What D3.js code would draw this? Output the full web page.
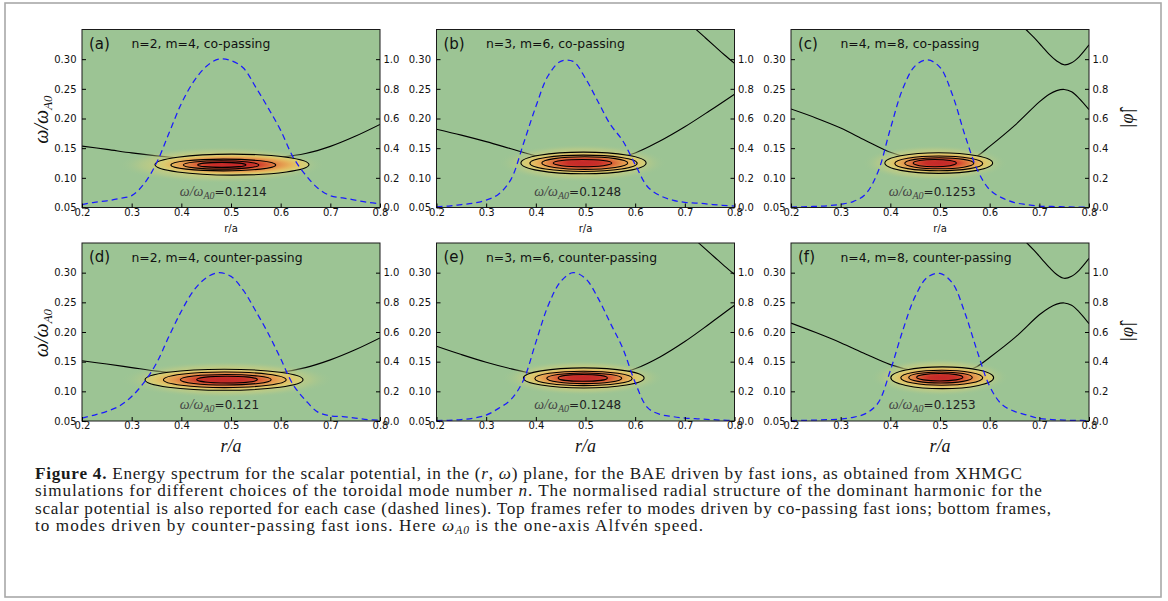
<!DOCTYPE html>
<html>
<head>
<meta charset="utf-8">
<script src="https://cdn.jsdelivr.net/npm/d3@7"></script>
<style>
  html, body { margin: 0; padding: 0; background: #ffffff; }
  svg { display: block; }
</style>
</head>
<body>
<svg id="fig" width="1168" height="601"></svg>
<script>
// ---------------- data ----------------
const panelIds = ["(a)", "(b)", "(c)", "(d)", "(e)", "(f)"];
const panelTitles = [
  "n=2, m=4, co-passing", "n=3, m=6, co-passing", "n=4, m=8, co-passing",
  "n=2, m=4, counter-passing", "n=3, m=6, counter-passing", "n=4, m=8, counter-passing"
];
const peakLabels = ["0.1214", "0.1248", "0.1253", "0.121", "0.1248", "0.1253"];

const freqTicks = [0.05, 0.10, 0.15, 0.20, 0.25, 0.30];
const radiusTicks = [0.2, 0.3, 0.4, 0.5, 0.6, 0.7, 0.8];
const amplitudeTicks = [0.0, 0.2, 0.4, 0.6, 0.8, 1.0];

// radial grid of the harmonic profiles |phi|(r/a)
const radialGrid = [0.200, 0.225, 0.250, 0.275, 0.300, 0.325, 0.350, 0.375, 0.400, 0.425, 0.450, 0.475,
                    0.500, 0.525, 0.550, 0.575, 0.600, 0.625, 0.650, 0.675, 0.700, 0.725, 0.750, 0.775, 0.800];
const phiA = [0.020, 0.035, 0.045, 0.060, 0.080, 0.160, 0.300, 0.500, 0.700, 0.850, 0.950, 1.000,
              0.990, 0.940, 0.810, 0.670, 0.520, 0.340, 0.220, 0.130, 0.080, 0.065, 0.050, 0.035, 0.025];
const phiB = [0.005, 0.010, 0.020, 0.030, 0.050, 0.090, 0.190, 0.430, 0.680, 0.890, 0.985, 0.985,
              0.870, 0.715, 0.560, 0.450, 0.290, 0.140, 0.080, 0.050, 0.035, 0.030, 0.022, 0.015, 0.010];
const phiC = [0.003, 0.005, 0.008, 0.012, 0.022, 0.040, 0.090, 0.240, 0.530, 0.800, 0.955, 0.995,
              0.945, 0.760, 0.490, 0.255, 0.120, 0.065, 0.033, 0.020, 0.010, 0.007, 0.005, 0.003, 0.003];
const phiD = [0.020, 0.040, 0.065, 0.100, 0.165, 0.260, 0.390, 0.570, 0.740, 0.880, 0.965, 1.000,
              0.975, 0.880, 0.740, 0.590, 0.420, 0.245, 0.140, 0.060, 0.035, 0.030, 0.020, 0.010, 0.005];
const phiE = [0.003, 0.005, 0.010, 0.020, 0.040, 0.085, 0.145, 0.275, 0.530, 0.780, 0.940, 1.000,
              0.960, 0.830, 0.660, 0.490, 0.260, 0.090, 0.045, 0.030, 0.020, 0.015, 0.010, 0.006, 0.004];
const phiF = [0.003, 0.004, 0.006, 0.009, 0.013, 0.025, 0.050, 0.120, 0.340, 0.610, 0.840, 0.970,
              0.995, 0.930, 0.730, 0.470, 0.234, 0.110, 0.065, 0.040, 0.017, 0.010, 0.006, 0.004, 0.003];

// shear Alfven continuum branches, [r/a, omega/omega_A0]
const lowerA = [[0.2,0.1535],[0.25,0.148],[0.3,0.142],[0.35,0.137],[0.4,0.133],[0.45,0.131],[0.5,0.131],
                [0.55,0.132],[0.6,0.135],[0.65,0.141],[0.7,0.153],[0.75,0.170],[0.8,0.190]];
const lowerB = [[0.2,0.182],[0.25,0.172],[0.3,0.161],[0.35,0.149],[0.4,0.137],[0.45,0.130],[0.5,0.129],
                [0.55,0.132],[0.6,0.142],[0.65,0.162],[0.7,0.186],[0.75,0.213],[0.8,0.241]];
const lowerC = [[0.2,0.216],[0.25,0.201],[0.3,0.184],[0.35,0.163],[0.4,0.143],[0.45,0.131],[0.5,0.127],
                [0.55,0.129],[0.575,0.137],[0.6,0.153],[0.65,0.188],[0.7,0.228],[0.72,0.241],[0.735,0.247],
                [0.75,0.249],[0.765,0.245],[0.78,0.234],[0.8,0.215]];
const lowerD = [[0.2,0.1515],[0.25,0.146],[0.3,0.140],[0.35,0.134],[0.4,0.130],[0.45,0.128],[0.5,0.128],
                [0.55,0.129],[0.6,0.132],[0.65,0.140],[0.7,0.153],[0.75,0.170],[0.8,0.190]];
const lowerE = [[0.2,0.176],[0.25,0.162],[0.3,0.149],[0.35,0.138],[0.4,0.129],[0.45,0.124],[0.5,0.123],
                [0.55,0.126],[0.6,0.138],[0.65,0.158],[0.7,0.184],[0.75,0.214],[0.8,0.245]];
const lowerF = [[0.2,0.215],[0.25,0.199],[0.3,0.182],[0.35,0.163],[0.4,0.145],[0.45,0.134],[0.5,0.130],
                [0.55,0.134],[0.575,0.142],[0.6,0.157],[0.65,0.190],[0.7,0.229],[0.72,0.241],[0.735,0.247],
                [0.75,0.249],[0.765,0.245],[0.78,0.234],[0.8,0.214]];
const upperB = [[0.70,0.367],[0.72,0.352],[0.74,0.337],[0.76,0.322],[0.78,0.307],[0.80,0.293]];
const upperC = [[0.655,0.365],[0.673,0.350],[0.69,0.336],[0.705,0.322],[0.72,0.308],[0.735,0.297],
                [0.75,0.2905],[0.765,0.294],[0.78,0.304],[0.80,0.324]];
const upperE = [[0.70,0.372],[0.72,0.356],[0.74,0.341],[0.76,0.326],[0.78,0.311],[0.80,0.297]];
const upperF = [[0.655,0.366],[0.675,0.350],[0.69,0.337],[0.705,0.323],[0.72,0.309],[0.735,0.297],
                [0.75,0.2905],[0.765,0.294],[0.78,0.304],[0.80,0.324]];

// energy-spectrum contour levels, outermost first: [rMin, rMax, omegaMin, omegaMax]
const levelsA = [[0.347,0.657,0.1046,0.1400],[0.379,0.590,0.1118,0.1316],[0.404,0.556,0.1147,0.1287],[0.433,0.530,0.1176,0.1260]];
const levelsB = [[0.370,0.622,0.1068,0.1434],[0.388,0.604,0.1108,0.1383],[0.412,0.585,0.1142,0.1355],[0.435,0.553,0.1186,0.1310]];
const levelsC = [[0.389,0.606,0.1075,0.1422],[0.409,0.586,0.1119,0.1367],[0.429,0.568,0.1152,0.1338],[0.446,0.533,0.1186,0.1310]];
const levelsD = [[0.327,0.645,0.1017,0.1373],[0.364,0.611,0.1063,0.1327],[0.398,0.581,0.1107,0.1283],[0.431,0.553,0.1141,0.1254]];
const levelsE = [[0.375,0.618,0.1056,0.1395],[0.398,0.594,0.1097,0.1339],[0.422,0.573,0.1130,0.1310],[0.445,0.544,0.1170,0.1283]];
const levelsF = [[0.401,0.608,0.1046,0.1412],[0.421,0.586,0.1102,0.1356],[0.437,0.565,0.1140,0.1327],[0.453,0.546,0.1175,0.1300]];

// ---------------- layout ----------------
const panelLeft = [82, 436.5, 791];
const rowTop = [29.5, 243];
const pw = 298, ph = 178;
const bgGreen = "#9cc494";

const panels = panelIds.map((id, i) => ({
  id, i,
  title: panelTitles[i],
  peak: peakLabels[i],
  phi: [phiA, phiB, phiC, phiD, phiE, phiF][i],
  lower: [lowerA, lowerB, lowerC, lowerD, lowerE, lowerF][i],
  upper: [null, upperB, upperC, null, upperE, upperF][i],
  levels: [levelsA, levelsB, levelsC, levelsD, levelsE, levelsF][i],
  col: i % 3,
  row: Math.floor(i / 3)
}));

const svg = d3.select("#fig");
const defs = svg.append("defs");

// colour ramp of the spectrum core (inside the outermost contour)
const core = defs.append("radialGradient").attr("id", "coreGrad");
[[0, "#c4282a"], [0.25, "#c92f29"], [0.38, "#d4472f"], [0.5, "#dd6d3c"],
 [0.62, "#e4934c"], [0.76, "#e6b45c"], [0.88, "#dcc96e"], [1, "#cfd07c"]]
  .forEach(([o, c]) => core.append("stop").attr("offset", o).attr("stop-color", c));

// soft halo of the spectrum around the outermost contour
const halo = defs.append("radialGradient").attr("id", "haloGrad");
[[0, "#d6cf76", 1], [0.55, "#d2cf7a", 0.9], [0.78, "#c2cc84", 0.5], [1, bgGreen, 0]]
  .forEach(([o, c, a]) => halo.append("stop").attr("offset", o).attr("stop-color", c).attr("stop-opacity", a));

// figure border
svg.append("rect")
  .attr("x", 5).attr("y", 3).attr("width", 1156).attr("height", 594)
  .attr("fill", "none").attr("stroke", "#a8a8a8").attr("stroke-width", 1.6);

const sans = "'DejaVu Sans', sans-serif";
const serif = "'Liberation Serif', 'DejaVu Serif', serif";

panels.forEach(p => {
  const x0 = panelLeft[p.col], y0 = rowTop[p.row];
  const x = d3.scaleLinear().domain([0.2, 0.8]).range([x0, x0 + pw]);
  const y = d3.scaleLinear().domain([0.05, 0.35]).range([y0 + ph, y0]);
  const yR = d3.scaleLinear().domain([0, 1.2]).range([y0 + ph, y0]);

  const clipId = "clip" + p.i;
  defs.append("clipPath").attr("id", clipId)
    .append("rect").attr("x", x0).attr("y", y0).attr("width", pw).attr("height", ph);

  const g = svg.append("g");
  const plot = g.append("g").attr("clip-path", `url(#${clipId})`);

  plot.append("rect").attr("x", x0).attr("y", y0).attr("width", pw).attr("height", ph).attr("fill", bgGreen);

  // continuum branches
  const branch = d3.line().x(d => x(d[0])).y(d => y(d[1])).curve(d3.curveCatmullRom.alpha(0.5));
  [p.lower, p.upper].filter(Boolean).forEach(b => {
    plot.append("path").attr("d", branch(b))
      .attr("fill", "none").attr("stroke", "#000").attr("stroke-width", 1.1);
  });

  // spectrum: halo, core and contour lines
  const outer = p.levels[0], inner = p.levels[p.levels.length - 1];
  const ocx = x((outer[0] + outer[1]) / 2), ocy = y((outer[2] + outer[3]) / 2);
  const orx = (x(outer[1]) - x(outer[0])) / 2, ory = (y(outer[2]) - y(outer[3])) / 2;
  plot.append("ellipse")
    .attr("cx", x((inner[0] + inner[1]) / 2)).attr("cy", y((inner[2] + inner[3]) / 2))
    .attr("rx", orx * 1.35).attr("ry", ory * 1.75)
    .attr("fill", "url(#haloGrad)");
  plot.append("ellipse")
    .attr("cx", ocx).attr("cy", ocy).attr("rx", orx).attr("ry", ory)
    .attr("fill", "url(#coreGrad)");
  p.levels.forEach(l => {
    plot.append("ellipse")
      .attr("cx", x((l[0] + l[1]) / 2)).attr("cy", y((l[2] + l[3]) / 2))
      .attr("rx", (x(l[1]) - x(l[0])) / 2).attr("ry", (y(l[2]) - y(l[3])) / 2)
      .attr("fill", "none").attr("stroke", "#000").attr("stroke-width", 1.1);
  });

  // radial structure of the dominant harmonic
  const prof = d3.line().x((d, k) => x(radialGrid[k])).y(d => yR(d)).curve(d3.curveCatmullRom.alpha(0.5));
  plot.append("path").attr("d", prof(p.phi))
    .attr("fill", "none").attr("stroke", "#1a1aff").attr("stroke-width", 1.25)
    .attr("stroke-dasharray", "6,4");

  // frame
  g.append("rect").attr("x", x0).attr("y", y0).attr("width", pw).attr("height", ph)
    .attr("fill", "none").attr("stroke", "#1a1a1a").attr("stroke-width", 1);

  // axes
  const styleAxis = sel => {
    sel.select(".domain").remove();
    sel.selectAll(".tick line").attr("stroke", "#000").attr("stroke-width", 1);
    sel.selectAll(".tick text").attr("font-family", sans).attr("font-size", 10).attr("fill", "#111");
  };
  g.append("g").attr("transform", `translate(${x0},0)`)
    .call(d3.axisLeft(y).tickValues(freqTicks).tickSize(-4).tickPadding(5.5).tickFormat(d3.format(".2f")))
    .call(styleAxis);
  g.append("g").attr("transform", `translate(${x0 + pw},0)`)
    .call(d3.axisRight(yR).tickValues(amplitudeTicks).tickSize(-4).tickPadding(3.5).tickFormat(d3.format(".1f")))
    .call(styleAxis);
  g.append("g").attr("transform", `translate(0,${y0 + ph})`)
    .call(d3.axisBottom(x).tickValues(radiusTicks).tickSize(-4).tickPadding(1).tickFormat(d3.format(".1f")))
    .call(styleAxis);

  // panel label and case title
  g.append("text").attr("x", x0 + 7).attr("y", y0 + 19)
    .attr("font-family", sans).attr("font-size", 15).attr("fill", "#111").text(p.id);
  g.append("text").attr("x", x0 + 49.5).attr("y", y0 + 18.5)
    .attr("font-family", sans).attr("font-size", 12.4).attr("fill", "#111").text(p.title);

  // mode frequency
  const fl = g.append("text").attr("x", x(0.397)).attr("y", y(0.07)).attr("fill", "#222");
  fl.append("tspan").attr("font-family", serif).attr("font-style", "italic").attr("font-size", 14)
    .attr("fill", "#444").text("ω/ω");
  fl.append("tspan").attr("font-family", serif).attr("font-style", "italic").attr("font-size", 10)
    .attr("fill", "#444").attr("dy", 3).text("A0");
  fl.append("tspan").attr("font-family", sans).attr("font-size", 12).attr("dy", -3).text("=" + p.peak);

  // axis titles
  if (p.row === 0) {
    g.append("text").attr("x", x0 + pw / 2).attr("y", y0 + ph + 24.5).attr("text-anchor", "middle")
      .attr("font-family", sans).attr("font-size", 10).attr("fill", "#111").text("r/a");
  } else {
    g.append("text").attr("x", x0 + pw / 2).attr("y", y0 + ph + 31).attr("text-anchor", "middle")
      .attr("font-family", serif).attr("font-style", "italic").attr("font-size", 18).attr("fill", "#111").text("r/a");
  }
  if (p.col === 0) {
    const yl = g.append("text")
      .attr("transform", `translate(48,${y0 + ph / 2 + 1}) rotate(-90)`)
      .attr("text-anchor", "middle").attr("font-family", serif).attr("font-style", "italic").attr("fill", "#111");
    yl.append("tspan").attr("font-size", 20).text("ω/ω");
    yl.append("tspan").attr("font-size", 13).attr("dy", 4).text("A0");
  }
  if (p.col === 2) {
    g.append("text")
      .attr("transform", `translate(1133,${y0 + ph / 2}) rotate(-90)`)
      .attr("text-anchor", "middle").attr("font-family", serif).attr("font-style", "italic")
      .attr("font-size", 18).attr("fill", "#111").text("|φ\u0302|");
  }
});

// caption
const captionLines = [
  [["b", "Figure 4."], ["", " Energy spectrum for the scalar potential, in the ("], ["i", "r"], ["", ", "], ["i", "ω"],
   ["", ") plane, for the BAE driven by fast ions, as obtained from XHMGC"]],
  [["", "simulations for different choices of the toroidal mode number "], ["i", "n"],
   ["", ". The normalised radial structure of the dominant harmonic for the"]],
  [["", "scalar potential is also reported for each case (dashed lines). Top frames refer to modes driven by co-passing fast ions; bottom frames,"]],
  [["", "to modes driven by counter-passing fast ions. Here "], ["i", "ω"], ["s", "A0"],
   ["", " is the one-axis Alfvén speed."]]
];
const capY = [478.5, 496, 513.5, 531];
const capWidth = [987, 1007, 1016, 668];
captionLines.forEach((parts, li) => {
  const t = svg.append("text").attr("x", 35).attr("y", capY[li])
    .attr("font-family", serif).attr("font-size", 17.2).attr("fill", "#1a1a1a")
    .attr("textLength", capWidth[li]).attr("lengthAdjust", "spacing");
  let shifted = false;
  parts.forEach(([kind, txt]) => {
    const s = t.append("tspan").text(txt);
    if (kind === "b") s.attr("font-weight", "bold");
    if (kind === "i") s.attr("font-style", "italic");
    if (kind === "s") { s.attr("font-style", "italic").attr("font-size", 11.5).attr("dy", 2.5); shifted = true; }
    else if (shifted) { s.attr("dy", -2.5); shifted = false; }
  });
});
</script>
</body>
</html>
